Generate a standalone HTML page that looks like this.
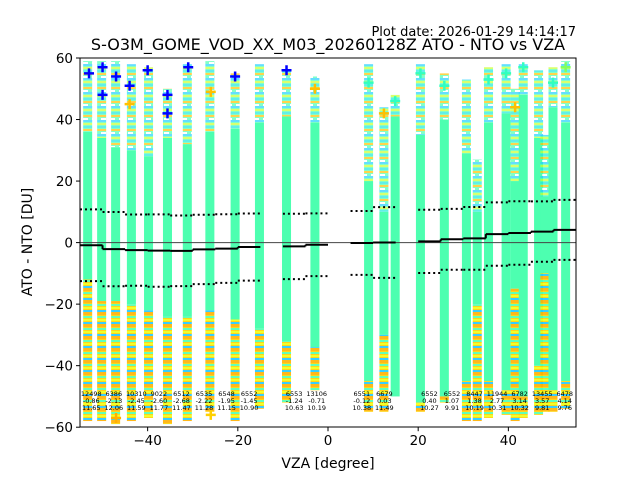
<!DOCTYPE html>
<html><head><meta charset="utf-8">
<style>
html,body{margin:0;padding:0;background:#fff;}
svg{display:block;font-family:"DejaVu Sans","Liberation Sans",sans-serif;}
</style></head>
<body>
<svg id="chart" width="640" height="480" viewBox="0 0 640 480">
<defs>
<pattern id="mixUp" width="9" height="14" patternUnits="userSpaceOnUse">
<rect width="9" height="14" fill="#4dffb0"/>
<rect y="0" width="9" height="2" fill="#1fe8e0"/>
<rect y="3" width="9" height="2" fill="#ffc000"/>
<rect x="2" y="6" width="5" height="2" fill="#ffffff"/>
<rect y="8" width="9" height="2" fill="#22d0ff"/>
<rect y="11" width="9" height="2" fill="#c8ff30"/>
</pattern>
<pattern id="mixLow" width="9" height="12" patternUnits="userSpaceOnUse">
<rect width="9" height="12" fill="#ffd000"/>
<rect y="0" width="9" height="3" fill="#ffb000"/>
<rect y="4" width="9" height="2" fill="#50ffb0"/>
<rect y="7" width="9" height="2" fill="#f0ff10"/>
<rect y="10" width="9" height="2" fill="#20c8ff"/>
</pattern>
</defs>
<text x="576" y="36" font-size="13" text-anchor="end">Plot date: 2026-01-29 14:14:17</text>
<text x="328" y="50" font-size="16" text-anchor="middle">S-O3M_GOME_VOD_XX_M03_20260128Z ATO - NTO vs VZA</text>
<g id="plot"></g>
<rect x="80" y="58" width="496" height="369" fill="none" stroke="#000" stroke-width="1"/>
<g id="axes"></g>
<text x="328" y="468" font-size="14" text-anchor="middle">VZA [degree]</text>
<text x="32" y="242" font-size="14" text-anchor="middle" transform="rotate(-90 32 242)">ATO - NTO [DU]</text>
</svg>
<script>
const colVza = [-53.3,-50.2,-47.1,-43.6,-39.8,-35.6,-31.2,-26.2,-20.6,-15.2,-9.2,-2.9,9.0,12.4,14.9,20.5,25.8,30.7,33.1,35.6,39.5,41.5,43.3,46.7,48.1,49.9,52.7];
const colTop = [59,59,59,58,57,50,58,59,55,58,56,54,58,44,48,58,55,53,27,57,58,50,58,56,35,57,59];
const colGreenTop = [36,34,31,30,28,34,32,36,37,39,41,39,20,10,41,35,40,29,10,39,42,20,48,34,15,44,39];
const colGreenBot = [-12,-19,-19,-20,-22,-24,-24,-22,-25,-28,-32,-34,-45,-30,-50,-52,-50,-45,-20,-45,-48,-15,-50,-40,-10,-48,-45];
const colBottom = [-58,-58,-59,-58,-57,-59,-58,-55,-58,-54,-52,-48,-55,-55,-50,-55,-52,-58,-58,-57,-56,-58,-57,-56,-55,-55,-54];

const binCenter = [-52.5,-47.5,-42.5,-37.5,-32.5,-27.5,-22.5,-17.5,-7.5,-2.5,7.5,12.5,22.5,27.5,32.5,37.5,42.5,47.5,52.5];
const binCount = ["12498","6386","10310","9022","6512","6535","6548","6552","6553","13106","6551","6679","6552","6552","8447","11944","6782","13455","6478"];
const binMean = [-0.86,-2.13,-2.45,-2.60,-2.68,-2.22,-1.95,-1.45,-1.24,-0.71,-0.12,0.03,0.40,1.07,1.38,2.77,3.14,3.57,4.14];
const binStd = [11.65,12.06,11.59,11.77,11.47,11.28,11.15,10.90,10.63,10.19,10.38,11.49,10.27,9.91,10.19,10.31,10.32,9.81,9.76];

const outVza = [-53,-50,-47,-44,-40,-35.6,-31,-26,-20.6,-9.2,-50,-44,-35.6,9,14.9,20.5,25.8,35.6,39.5,43.3,49.9,52.7,12.4,41.5,-26,-47,-2.9];
const outVal = [55,57,54,51,56,48,57,49,54,56,48,45,42,52,46,55,51,53,55,57,52,57,42,44,-56,-57,50];
const outColor = ["#0000ff","#0000ff","#0000ff","#0000ff","#0000ff","#0000ff","#0000ff","#ffc000","#0000ff","#0000ff","#0000ff","#ffc000","#0000ff","#30ffc0","#30ffc0","#30ffc0","#30ffc0","#30ffc0","#30ffc0","#30ffc0","#30ffc0","#80ff60","#ffc000","#ffc000","#ffd000","#ffb000","#ffc000"];

const xTicks = [-40,-20,0,20,40];
const yTicks = [-60,-40,-20,0,20,40,60];

const X0=80,X1=576,Y0=58,Y1=427.2;
const xmin=-55,xmax=55,ymin=-60,ymax=60;
const sx=v=>X0+(v-xmin)/(xmax-xmin)*(X1-X0);
const sy=v=>Y1-(v-ymin)/(ymax-ymin)*(Y1-Y0);
const NS="http://www.w3.org/2000/svg";
const plot=document.getElementById('plot');
const axes=document.getElementById('axes');
function mk(tag,attrs,parent){const e=document.createElementNS(NS,tag);for(const k in attrs)e.setAttribute(k,attrs[k]);parent.appendChild(e);return e;}

const cw=2.0;
colVza.forEach((v,i)=>{
  const x=sx(v-cw/2), w=sx(v+cw/2)-sx(v-cw/2);
  const up=mk('rect',{x:x,y:sy(colTop[i]),width:w,height:sy(colGreenTop[i])-sy(colTop[i]),fill:'url(#mixUp)',opacity:0.7},plot);
  
  
  const g=mk('rect',{x:x,y:sy(colGreenTop[i]),width:w,height:sy(colGreenBot[i])-sy(colGreenTop[i]),fill:'#4dffb0'},plot);
  
  
  const lo=mk('rect',{x:x,y:sy(colGreenBot[i]),width:w,height:sy(colBottom[i])-sy(colGreenBot[i]),fill:'url(#mixLow)',opacity:0.9},plot);
  
  
});
outVza.forEach((v,i)=>{
  const cx=sx(v), cy=sy(outVal[i]);
  const p=mk('path',{d:`M${cx-5},${cy}H${cx+5}M${cx},${cy-5}V${cy+5}`,stroke:outColor[i],'stroke-width':2.5},plot);
  
  
});
const zl=mk('line',{x1:X0,x2:X1,y1:sy(0),y2:sy(0),stroke:'#444','stroke-width':1},plot);



binCenter.forEach((c,i)=>{
  const a=sx(c-2.5), b=sx(c+2.5);
  const m=mk('line',{x1:a,x2:b,y1:sy(binMean[i]),y2:sy(binMean[i]),stroke:'#000','stroke-width':2},plot);
  
  
  if(i>0 && Math.abs(binCenter[i-1]-c+5)<0.01){
    const j=mk('line',{x1:a,x2:a,y1:sy(binMean[i-1]),y2:sy(binMean[i]),stroke:'#000','stroke-width':2},plot);
    
    
  }
  [1,-1].forEach(s=>{
    const val=binMean[i]+s*binStd[i];
    const d=mk('line',{x1:a,x2:b,y1:sy(val),y2:sy(val),stroke:'#000','stroke-width':2,'stroke-dasharray':'2,3'},plot);
    
    
  });
  const rows=[binCount[i],binMean[i].toFixed(2),binStd[i].toFixed(2)];
  rows.forEach((t,r)=>{
    const tx=mk('text',{x:sx(c),y:396+r*7,'font-size':6.5,'text-anchor':'middle',fill:'#000'},plot);
    tx.textContent=t;
    
    
  });
});

xTicks.forEach(t=>{
  const x=sx(t);
  const l=mk('line',{x1:x,x2:x,y1:Y1,y2:Y1+4,stroke:'#000','stroke-width':1},axes);
  
  
  const tx=mk('text',{x:x,y:Y1+18,'font-size':13.5,'text-anchor':'middle'},axes);
  tx.textContent=(t<0?'\u2212'+(-t):t);
  
  
});
yTicks.forEach(t=>{
  const y=sy(t);
  const l=mk('line',{x1:X0-4,x2:X0,y1:y,y2:y,stroke:'#000','stroke-width':1},axes);
  
  
  const tx=mk('text',{x:X0-7,y:y+5,'font-size':13.5,'text-anchor':'end'},axes);
  tx.textContent=(t<0?'\u2212'+(-t):t);
  
  
});
</script>
</body></html>
